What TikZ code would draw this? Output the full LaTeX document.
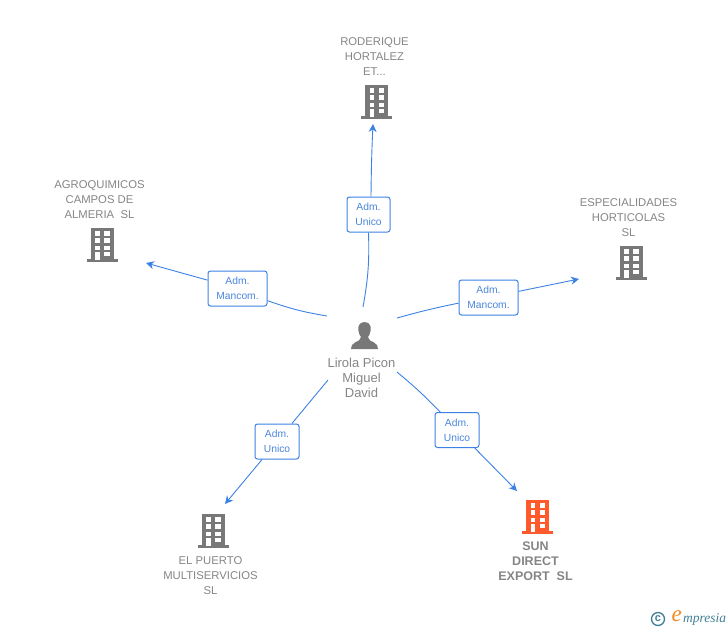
\documentclass[tikz,border=0pt]{standalone}
\usepackage{xcolor}
\usepackage{fontspec}
\setmainfont{Liberation Sans}
\newfontfamily\logofont{Liberation Serif}
\usetikzlibrary{arrows.meta, positioning}
\definecolor{linkblue}{HTML}{3C82E4}
\definecolor{boxtext}{HTML}{4A86DC}
\definecolor{icongray}{HTML}{787878}
\definecolor{labelgray}{HTML}{858585}
\definecolor{mainorange}{HTML}{FF5A2B}
\definecolor{logoteal}{HTML}{3F7F95}
\definecolor{logoorange}{HTML}{F08A1E}

\begin{document}
\begin{tikzpicture}[
    x=1pt, y=-1pt,
    link/.style={draw=linkblue, line width=0.9pt},
    arrowlink/.style={link, -{Stealth[length=8pt, width=8pt, inset=2.5pt]}},
    role/.style={draw=linkblue, line width=1pt, rounded corners=2.5pt, fill=white, inner sep=0pt,
        minimum height=35pt, align=center, text=boxtext, font=\fontsize{10.3}{15}\selectfont},
    roleshort/.style={role, minimum width=44pt},
    rolelong/.style={role, minimum width=59pt},
    company/.style={align=center, text=labelgray, inner sep=0pt, font=\fontsize{11.3}{15}\selectfont},
    person/.style={company, font=\fontsize{13}{15}\selectfont},
    building/.pic={
        \fill[pic actions] (-11.5,-34) rectangle (11.5,-2);
        \fill[pic actions] (-15.5,-3) rectangle (15.5,0);
        \fill[white] (-7,-31) rectangle (-2.5,-26);
        \fill[white] (2,-31) rectangle (7.5,-26);
        \fill[white] (-7,-24) rectangle (-2.5,-19);
        \fill[white] (2,-24) rectangle (7.5,-19);
        \fill[white] (-7,-16.5) rectangle (-2.5,-12);
        \fill[white] (2,-16.5) rectangle (7.5,-12);
        \fill[white] (-7,-10.5) rectangle (-2.5,-2);
        \fill[white] (2,-10.5) rectangle (7.5,-6);
    },
]
\useasboundingbox (0,0) rectangle (728,630);

% Person in the middle
\fill[icongray] (364.5,322) .. controls (359,322) and (357.5,327) .. (358.5,331)
    .. controls (359,334) and (360,336) .. (361,337)
    .. controls (361,340) and (358,341) .. (355,342.5)
    .. controls (352,344) and (351,346) .. (351,349)
    -- (378,349) .. controls (378,346) and (377,344) .. (374,342.5)
    .. controls (371,341) and (368,340) .. (368,337)
    .. controls (369,336) and (370,334) .. (370.5,331)
    .. controls (371.5,327) and (370,322) .. (364.5,322) -- cycle;
\node[person] (lirola) at (361.5,378) {Lirola Picon\\Miguel\\David};

% Companies
\pic[icongray] (bldRoderique) at (376.5,119) {building};
\node[company] (roderique) at (374.5,56.5) {RODERIQUE\\HORTALEZ\\ET...};

\pic[icongray] (bldAgro) at (102,262) {building};
\node[company] (agro) at (99.5,199.5) {AGROQUIMICOS\\CAMPOS DE\\ALMERIA~ SL};

\pic[icongray] (bldEspecial) at (631,280) {building};
\node[company] (especial) at (628.5,217.5) {ESPECIALIDADES\\HORTICOLAS\\SL};

\pic[icongray] (bldPuerto) at (213,548) {building};
\node[company] (puerto) at (210.5,575.5) {EL PUERTO\\MULTISERVICIOS\\SL};

\pic[mainorange] (bldSun) at (537.5,534) {building};
\node[company, font=\fontsize{12.5}{15}\selectfont\bfseries] (sun) at (535.5,561) {SUN\\DIRECT\\EXPORT~ SL};

% Role boxes
\node[roleshort, minimum width=43pt] (boxRoderique) at (368.5,214.5) {Adm.\\Unico};
\node[rolelong] (boxAgro) at (237.5,288.5) {Adm.\\Mancom.};
\node[rolelong] (boxEspecial) at (488.5,297.5) {Adm.\\Mancom.};
\node[roleshort] (boxPuerto) at (277,441.5) {Adm.\\Unico};
\node[roleshort] (boxSun) at (457,430) {Adm.\\Unico};

% Connector ends
\coordinate (fromTop) at (363,307);
\coordinate (fromLeft) at (327,316);
\coordinate (fromRight) at (397,318);
\coordinate (fromDownLeft) at (328,380);
\coordinate (fromDownRight) at (397,372);
\coordinate (toTop) at (373,124);
\coordinate (toLeft) at (146,263);
\coordinate (toRight) at (579,279);
\coordinate (toDownLeft) at (225,504);
\coordinate (toDownRight) at (517,491);

% Connectors
\draw[link] (fromTop) to[bend right=6] (boxRoderique.south);
\draw[arrowlink] ([xshift=2.5pt]boxRoderique.north) to[bend left=1] (toTop);
\draw[link] (fromLeft) to[bend left=5] (boxAgro);
\draw[arrowlink] (boxAgro) -- (toLeft);
\draw[link] (fromRight) to[bend left=2] (boxEspecial);
\draw[arrowlink] (boxEspecial) -- (toRight);
\draw[link] (fromDownLeft) -- (boxPuerto);
\draw[arrowlink] (boxPuerto) -- (toDownLeft);
\draw[link] (fromDownRight) to[bend left=3] (boxSun);
\draw[arrowlink] (boxSun) -- (toDownRight);

% Logo
\draw[logoteal, line width=1.3pt] (658,619) circle (6.5pt);
\node[text=logoteal, inner sep=0pt, font=\bfseries\fontsize{11}{11}\selectfont] (logoC) at (658,618.5) {c};
\node[text=logoorange, inner sep=0pt, anchor=east, font=\logofont\itshape\fontsize{23}{23}\selectfont] (logoE) at (682,616) {e};
\node[text=logoteal, inner sep=0pt, anchor=west, font=\logofont\itshape\fontsize{13.5}{13.5}\selectfont] (logoText) at (683,619) {mpresia};

\end{tikzpicture}
\end{document}
